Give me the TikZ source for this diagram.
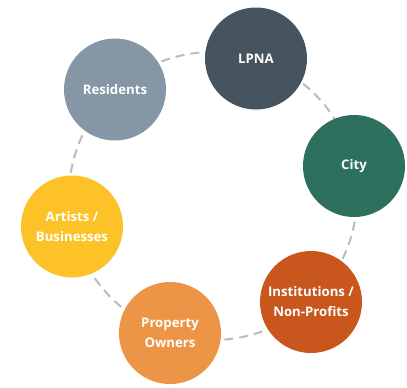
\documentclass[tikz,border=0pt]{standalone}
\usepackage{fontspec}
\setmainfont{Open Sans}
\definecolor{cLPNA}{HTML}{46545F}
\definecolor{cCity}{HTML}{2E705E}
\definecolor{cInst}{HTML}{C8561D}
\definecolor{cProp}{HTML}{EC9547}
\definecolor{cArt}{HTML}{FCC227}
\definecolor{cRes}{HTML}{8597A6}
\definecolor{cDash}{HTML}{BBBBBB}
\tikzset{
  stake/.style={circle, minimum size=102pt, inner sep=0pt, text=white,
    font=\fontsize{13.2}{20}\selectfont\bfseries, align=center},
  ring/.style={draw=cDash, line width=2pt, dash pattern=on 9pt off 6pt}
}
\begin{document}
\begin{tikzpicture}[x=1pt,y=-1pt]
\useasboundingbox (0,0) rectangle (407,388);
\coordinate (ctr) at (213,196);
\draw[ring] (ctr) circle[radius=144pt];
\node[stake, fill=cLPNA] (lpna) at (256,58.5) {LPNA};
\node[stake, fill=cCity] (city) at (354,166) {City};
\node[stake, fill=cInst] (inst) at (311,302) {Institutions /\\Non-Profits};
\node[stake, fill=cProp] (prop) at (170,333) {Property\\Owners};
\node[stake, fill=cArt] (art) at (72,226.5) {Artists /\\Businesses};
\node[stake, fill=cRes] (res) at (115,89.5) {Residents};
\end{tikzpicture}
\end{document}
